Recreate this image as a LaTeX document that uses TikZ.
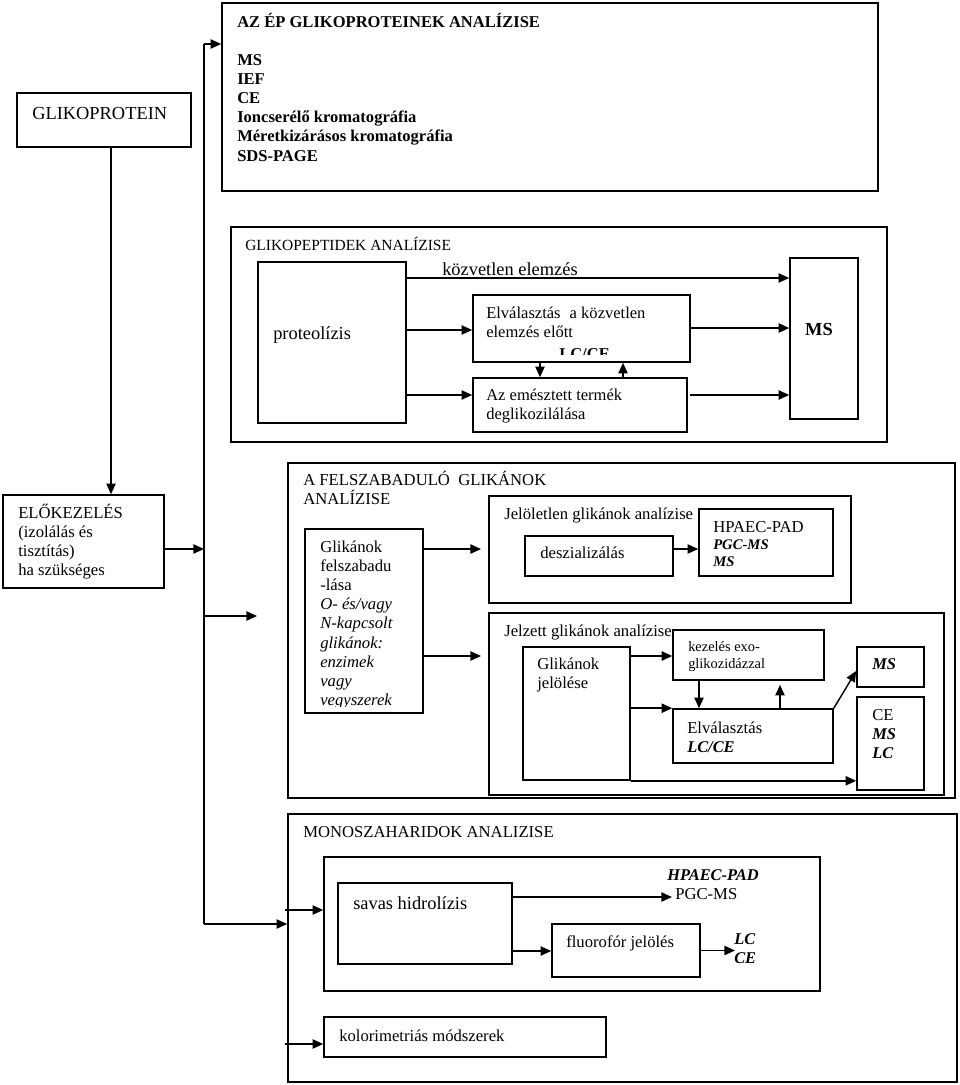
\documentclass[tikz,border=0pt]{standalone}
\usepackage{fontspec}
\setmainfont{Liberation Serif}
\usetikzlibrary{arrows.meta}
\newcommand{\mkbox}[5]{\node[box,minimum width={(#4-#2)*0.75pt},minimum height={(#5-#3)*0.75pt}] (#1) at ({(#2+#4)/2},{(#3+#5)/2}) {};}
\begin{document}
\begin{tikzpicture}[x=0.75pt,y=-0.75pt,
  box/.style={draw,line width=1.2pt,inner sep=0pt,rectangle},
  arr/.style={line width=1.1pt,-{Triangle[length=8pt,width=7pt]}},
  ln/.style={line width=1.1pt},
  txt/.style={anchor=base west,inner sep=0pt,font=\fontsize{12.5}{15}\selectfont},
  big/.style={txt,font=\fontsize{13.8}{16}\selectfont},
  bt/.style={txt,font=\fontsize{12.4}{15}\selectfont\bfseries},
  bi/.style={txt,font=\fontsize{12.3}{15}\selectfont\bfseries\itshape},
  bis/.style={txt,font=\fontsize{11}{13}\selectfont\bfseries\itshape},
  it/.style={txt,font=\fontsize{12.5}{15}\selectfont\itshape},
  sm/.style={txt,font=\fontsize{10.8}{13}\selectfont},
  mid/.style={txt,font=\fontsize{12.4}{15}\selectfont},
  tit/.style={txt,font=\fontsize{11.6}{14}\selectfont}
]
\useasboundingbox (0,0) rectangle (960,1085);

% ---------- boxes ----------
\mkbox{top}{222}{3}{878}{191}
\mkbox{gp}{17}{93}{191}{147}
\mkbox{elo}{3}{495}{164}{588}
\mkbox{pep}{231}{227}{887}{442}
\mkbox{prot}{258}{262}{406}{423}
\mkbox{elv1}{473}{295}{690}{362}
\mkbox{emt}{473}{378}{687}{432}
\mkbox{ms1}{790}{258}{858}{419}
\mkbox{fel}{288}{463}{955}{798}
\mkbox{gfel}{305}{529}{423}{713}
\mkbox{jelo}{489}{496}{851}{603}
\mkbox{desz}{525}{536}{673}{576}
\mkbox{hpaec}{699}{509}{833}{576}
\mkbox{jelz}{489}{613}{944}{795}
\mkbox{gjel}{523}{647}{630}{780}
\mkbox{kez}{673}{630}{824}{680}
\mkbox{elv2}{673}{709}{833}{763}
\mkbox{ms2}{857}{647}{924}{687}
\mkbox{cml}{857}{697}{924}{790}
\mkbox{mono}{288}{814}{957}{1082}
\mkbox{inner}{324}{857}{820}{991}
\mkbox{savas}{338}{883}{512}{964}
\mkbox{fluo}{552}{924}{700}{977}
\mkbox{kolor}{324}{1017}{606}{1057}

% ---------- texts ----------
\node[bt] (t0) at (237,27) {AZ ÉP GLIKOPROTEINEK ANALÍZISE};
\node[bt] (t1) at (237,65) {MS};
\node[bt] (t2) at (237,84) {IEF};
\node[bt] (t3) at (237,103) {CE};
\node[bt] (t4) at (237,122) {Ioncserélő kromatográfia};
\node[bt] (t5) at (237,141.5) {Méretkizárásos kromatográfia};
\node[bt] (t6) at (237,161) {SDS-PAGE};

\node[big] (gpt) at (32,119) {GLIKOPROTEIN};

\node[txt] (e1) at (18,518) {ELŐKEZELÉS};
\node[txt] (e2) at (18,537) {(izolálás és};
\node[txt] (e3) at (18,556) {tisztítás)};
\node[txt] (e4) at (18,575) {ha szükséges};

\node[tit] (pt) at (245,250) {GLIKOPEPTIDEK ANALÍZISE};
\node[big] (kz) at (442,275) {közvetlen elemzés};
\node[big] (prt) at (273,339) {proteolízis};
\node[mid] (v1) at (486,318) {Elválasztás\hspace{0.3em} a közvetlen};
\node[mid] (v2) at (486,337) {elemzés előtt};
\begin{scope}
\clip (elv1.north west) rectangle (elv1.east |- 0,354.5);
\node[bt] (v3) at (559,359) {LC/CE};
\end{scope}
\node[mid] (a1) at (486,400) {Az emésztett termék};
\node[mid] (a2) at (486,419) {deglikozilálása};
\node[big,anchor=base,font=\fontsize{13.8}{16}\selectfont\bfseries] (mst) at (819,335) {MS};

\node[txt] (f1) at (303,485) {A FELSZABADULÓ\hspace{0.25em} GLIKÁNOK};
\node[txt] (f2) at (303,504) {ANALÍZISE};

\node[txt] (g1) at (320,552) {Glikánok};
\node[txt] (g2) at (320,571.2) {felszabadu};
\node[txt] (g3) at (320,590.4) {-lása};
\node[it] (g4) at (320,609.6) {O- és/vagy};
\node[it] (g5) at (320,628.8) {N-kapcsolt};
\node[it] (g6) at (320,648) {glikánok:};
\node[it] (g7) at (320,667.2) {enzimek};
\node[it] (g8) at (320,686.4) {vagy};
\begin{scope}
\clip (gfel.north west) rectangle (gfel.east |- 0,706);
\node[it] (g9) at (320,705.6) {vegyszerek};
\end{scope}

\node[txt] (j1) at (504,519) {Jelöletlen glikánok analízise};
\node[txt] (dz) at (540,558) {deszializálás};
\node[txt] (h1) at (713,532) {HPAEC-PAD};
\node[bis] (h2) at (713,549) {PGC-MS};
\node[bis] (h3) at (713,566) {MS};

\node[txt] (j2) at (504,636) {Jelzett glikánok analízise};
\node[txt] (gj1) at (537,669) {Glikánok};
\node[txt] (gj2) at (537,688) {jelölése};
\node[sm] (k1) at (688,651) {kezelés exo-};
\node[sm] (k2) at (688,668) {glikozidázzal};
\node[txt] (l1) at (687,733) {Elválasztás};
\node[bi] (l2) at (687,752) {LC/CE};
\node[bi] (m1) at (872,669) {MS};
\node[txt] (c1) at (872,720) {CE};
\node[bi] (c2) at (872,739) {MS};
\node[bi] (c3) at (872,758) {LC};

\node[txt] (mt) at (303,837) {MONOSZAHARIDOK ANALIZISE};
\node[big] (sh) at (353,909) {savas hidrolízis};
\node[txt] (km) at (339,1041) {kolorimetriás módszerek};
\node[bi] (hp) at (667,880) {HPAEC-PAD};
\node[txt] (pg) at (675,899) {PGC-MS};
\node[txt] (fj) at (566,947) {fluorofór jelölés};
\node[bi] (lc) at (734,944) {LC};
\node[bi] (ce) at (734,963) {CE};

% ---------- connectors ----------
\coordinate (b1) at (204,44);
\coordinate (b2) at (204,924);
\coordinate (fa) at (257,616);
\coordinate (ja) at (481,549);
\coordinate (jb) at (481,656);
\coordinate (pa) at (672,897);
\coordinate (la) at (735,950.5);
\coordinate (ma) at (285,910);
\coordinate (mb) at (285,1044);

\draw[ln] (b1) -- (b2);
\draw[arr] (b1) -- (top.west |- b1);
\draw[arr] (gp.south -| 111,0) -- (elo.north -| 111,0);
\draw[arr] (elo.east |- 0,549) -- (b1 |- 0,549);
\draw[arr] (b1 |- fa) -- (fa);
\draw[arr] (b2) -- (mono.west |- b2);

\draw[arr] (prot.east |- 0,278) -- (ms1.west |- 0,278);
\draw[arr] (prot.east |- 0,330) -- (elv1.west |- 0,330);
\draw[arr] (prot.east |- 0,395) -- (emt.west |- 0,395);
\draw[arr] (elv1.east |- 0,328) -- (ms1.west |- 0,328);
\draw[arr] ([xshift=2pt]emt.east |- 0,395) -- (ms1.west |- 0,395);
\draw[arr] (elv1.south -| 540,0) -- (emt.north -| 540,0);
\draw[arr] (emt.north -| 623,0) -- (elv1.south -| 623,0);

\draw[arr] (gfel.east |- ja) -- (ja);
\draw[arr] (gfel.east |- jb) -- (jb);
\draw[arr] (desz.east |- 0,549) -- (hpaec.west |- 0,549);
\draw[arr] (gjel.east |- 0,656) -- (kez.west |- 0,656);
\draw[arr] (gjel.east |- elv2.north west) -- (elv2.north west);
\draw[arr] (kez.south -| 699,0) -- (elv2.north -| 699,0);
\draw[arr] (elv2.north -| 780,0) -- ([yshift=-3pt]kez.south -| 780,0);
\draw[arr] (elv2.north east) -- ([yshift=-3pt]ms2.west);
\draw[arr] (gjel.south east) -- (cml.west |- gjel.south east);

\draw[arr] (ma) -- (inner.west |- ma);
\draw[arr] (mb) -- (kolor.west |- mb);
\draw[arr] (savas.east |- pa) -- (pa);
\draw[arr] (savas.east |- 0,951) -- (fluo.west |- 0,951);
\draw[arr] (fluo.east |- la) -- (la);
\end{tikzpicture}
\end{document}
